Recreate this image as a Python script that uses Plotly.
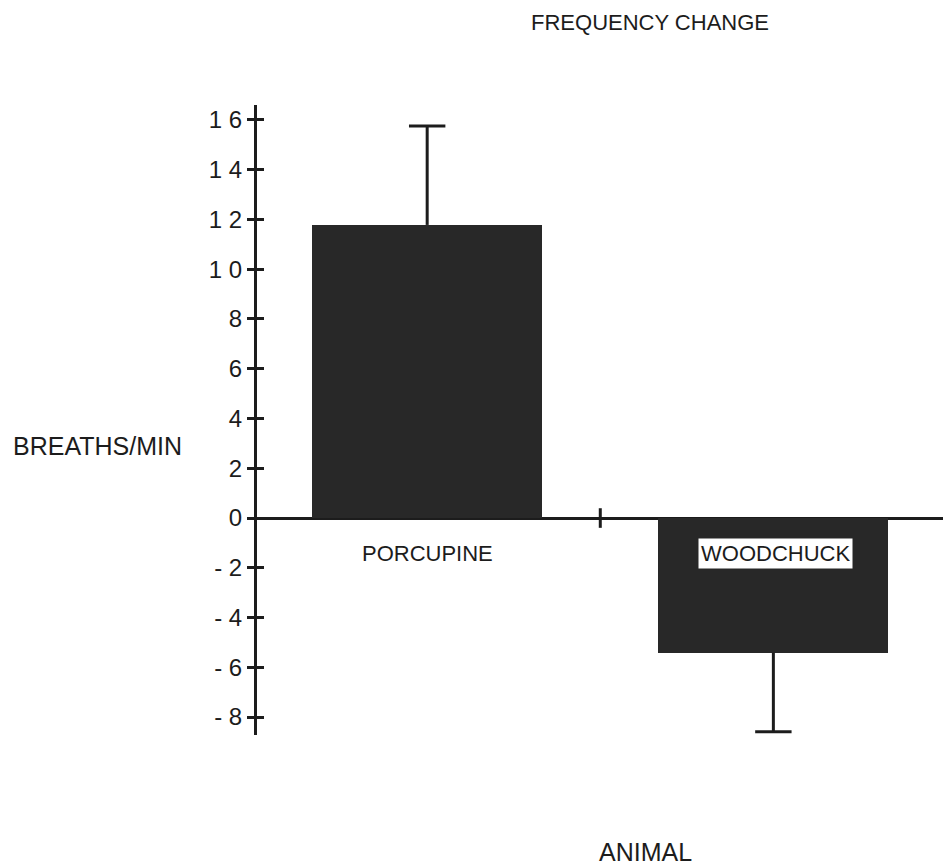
import plotly.graph_objects as go

# Change in breathing frequency by animal
animals = ["PORCUPINE", "WOODCHUCK"]
freq_change = [11.78, -5.41]
err_up = [3.98, 0.0]
err_down = [0.0, 3.18]

y_tickvals = [16, 14, 12, 10, 8, 6, 4, 2, 0, -2, -4, -6, -8]
y_ticktext = ["1 6", "1 4", "1 2", "1 0", "8", "6", "4", "2", "0",
              "- 2", "- 4", "- 6", "- 8"]

ink = "#1c1c1c"
font_family = "Liberation Sans, Arial, Helvetica, sans-serif"
y_range = [-8.72, 16.6]
x_pos = list(range(len(animals)))

fig = go.Figure()

fig.add_trace(go.Bar(
    x=x_pos, y=freq_change, width=0.665,
    marker=dict(color="#282828", line=dict(width=0)),
    showlegend=False, hoverinfo="skip",
))

# one-sided error whiskers: a stem from the bar end plus a cap at the tip
for xi, v, up, dn in zip(x_pos, freq_change, err_up, err_down):
    tip = v + up if up > 0 else v - dn
    fig.add_trace(go.Scatter(
        x=[xi, xi], y=[v, tip], mode="lines",
        line=dict(color=ink, width=3),
        showlegend=False, hoverinfo="skip",
    ))
    fig.add_trace(go.Scatter(
        x=[xi], y=[tip], mode="markers",
        marker=dict(symbol="line-ew", size=26, line=dict(color=ink, width=3)),
        showlegend=False, hoverinfo="skip",
    ))

# small tick on the category axis between the two groups
fig.add_trace(go.Scatter(
    x=[0.5], y=[0], mode="markers",
    marker=dict(symbol="line-ns", size=14, line=dict(color=ink, width=3)),
    showlegend=False, hoverinfo="skip",
))

# invisible trace carrying the inner half of the y ticks
fig.add_trace(go.Scatter(x=[0], y=[0], yaxis="y2", mode="markers",
                         marker=dict(opacity=0), showlegend=False,
                         hoverinfo="skip"))

annotations = [
    dict(x=0, y=-1.41, xref="x", yref="y", text=animals[0],
         xanchor="center", yanchor="middle", showarrow=False,
         font=dict(size=22, color=ink, family=font_family)),
    dict(x=1.005, y=-1.41, xref="x", yref="y", text=animals[1],
         xanchor="center", yanchor="middle", showarrow=False,
         bgcolor="white", borderpad=2,
         font=dict(size=22, color=ink, family=font_family)),
    dict(x=-0.233, y=0.4587, xref="paper", yref="paper", text="BREATHS/MIN",
         xanchor="center", yanchor="middle", showarrow=False,
         font=dict(size=25, color=ink, family=font_family)),
    dict(x=0.566, y=-0.186, xref="paper", yref="paper", text="ANIMAL",
         xanchor="center", yanchor="middle", showarrow=False,
         font=dict(size=25, color=ink, family=font_family)),
]

fig.update_layout(
    width=943, height=867,
    margin=dict(l=257, r=0, t=105, b=132),
    paper_bgcolor="white", plot_bgcolor="white",
    title=dict(text="FREQUENCY CHANGE", x=650 / 943, xanchor="center",
               y=1 - 22 / 867, yanchor="middle", xref="container",
               yref="container",
               font=dict(size=22, color=ink, family=font_family)),
    xaxis=dict(range=[-0.4916, 1.49], showgrid=False, zeroline=False,
               showline=False, showticklabels=False, ticks=""),
    yaxis=dict(range=y_range, tickvals=y_tickvals, ticktext=y_ticktext,
               ticks="outside", ticklen=7, tickwidth=2.5, tickcolor=ink,
               showline=True, linewidth=3, linecolor=ink,
               showgrid=False, zeroline=True, zerolinewidth=3,
               zerolinecolor=ink,
               tickfont=dict(size=24, color=ink, family=font_family)),
    yaxis2=dict(range=y_range, overlaying="y", side="left",
                tickvals=y_tickvals, ticks="inside", ticklen=7,
                tickwidth=2.5, tickcolor=ink, showticklabels=False,
                showline=False, showgrid=False, zeroline=False),
    annotations=annotations,
    bargap=0,
)

fig.write_html("out.html")
